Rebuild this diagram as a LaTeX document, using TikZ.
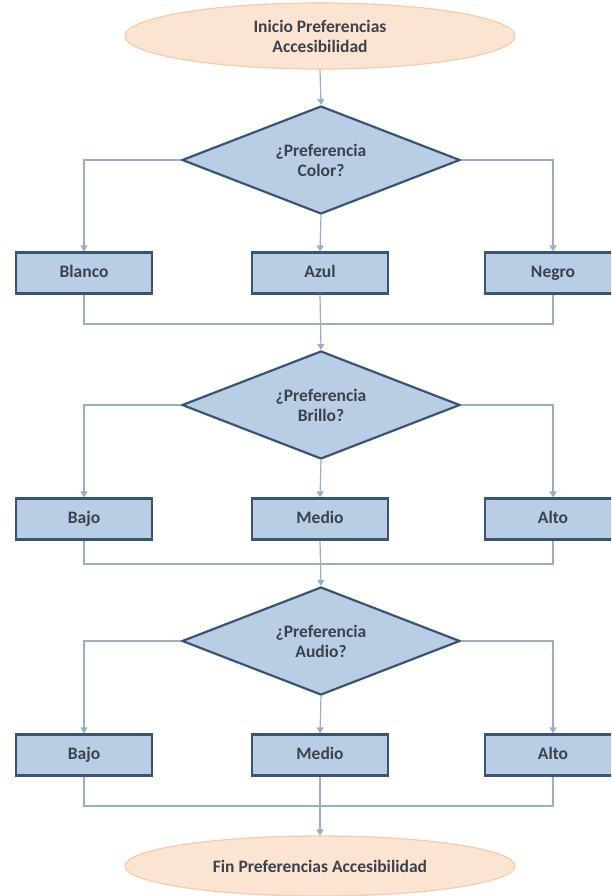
\documentclass[tikz,border=0pt]{standalone}
\usepackage{fontspec}
\setmainfont{Carlito}
\usetikzlibrary{shapes.geometric,arrows.meta}
\definecolor{boxfill}{HTML}{B9CDE5}
\definecolor{boxline}{HTML}{3A5573}
\definecolor{ellfill}{HTML}{FCE4D2}
\definecolor{elline}{HTML}{F6CBAB}
\definecolor{connc}{HTML}{98AEC8}
\definecolor{txt}{HTML}{3C424C}
\begin{document}
\begin{tikzpicture}[x=1pt,y=-1pt,
 lbl/.style={font=\fontsize{17.5}{20}\selectfont\bfseries, text=txt, align=center},
 terminal/.style={lbl, ellipse, draw=elline, fill=ellfill, line width=1.2pt, minimum width=390pt, minimum height=66pt, inner sep=0pt},
 decision/.style={lbl, diamond, aspect=2.57, draw=boxline, fill=boxfill, line width=2.2pt, minimum width=278pt, minimum height=108pt, inner sep=0pt},
 option/.style={lbl, rectangle, draw=boxline, fill=boxfill, line width=2.2pt, minimum width=136pt, minimum height=41pt, inner sep=0pt, text height=12pt, text depth=4pt},
 conn/.style={draw=connc, line width=1.2pt},
 arr/.style={conn, -{Triangle[width=7pt,length=6pt]}}
]
\fill[white] (0,0) rectangle (611,896);
\useasboundingbox (0,0) rectangle (611,896);
\clip (0,0) rectangle (611,896);

\node[terminal] (start) at (320,36) {Inicio Preferencias\\Accesibilidad};

\node[decision] (d1) at (321,160) {¿Preferencia\\Color?};
\node[option] (b11) at (84,273) {Blanco};
\node[option] (b12) at (320,273) {Azul};
\node[option] (b13) at (553,273) {Negro};
\coordinate (m1) at (320,324);

\node[decision] (d2) at (321,405) {¿Preferencia\\Brillo?};
\node[option] (b21) at (84,519) {Bajo};
\node[option] (b22) at (320,519) {Medio};
\node[option] (b23) at (553,519) {Alto};
\coordinate (m2) at (320,564);

\node[decision] (d3) at (321,641) {¿Preferencia\\Audio?};
\node[option] (b31) at (84,755) {Bajo};
\node[option] (b32) at (320,755) {Medio};
\node[option] (b33) at (553,755) {Alto};
\coordinate (m3) at (320,806);

\node[terminal, minimum height=60pt] (stop) at (320,866) {Fin Preferencias Accesibilidad};

% connectors
\draw[arr] (start.south) -- (d1.north);
\draw[arr] (d1.west) -| (b11.north);
\draw[arr] (d1.east) -| (b13.north);
\draw[arr] (d1.south) -- (b12.north);
\draw[conn] (b11.south) -- (b11.south |- m1) -- (b13.south |- m1) -- (b13.south);
\draw[arr] (b12.south) -- (d2.north);

\draw[arr] (d2.west) -| (b21.north);
\draw[arr] (d2.east) -| (b23.north);
\draw[arr] (d2.south) -- (b22.north);
\draw[conn] (b21.south) -- (b21.south |- m2) -- (b23.south |- m2) -- (b23.south);
\draw[arr] (b22.south) -- (d3.north);

\draw[arr] (d3.west) -| (b31.north);
\draw[arr] (d3.east) -| (b33.north);
\draw[arr] (d3.south) -- (b32.north);
\draw[conn] (b31.south) -- (b31.south |- m3) -- (b33.south |- m3) -- (b33.south);
\draw[arr] (b32.south) -- (stop.north);
\end{tikzpicture}
\end{document}
